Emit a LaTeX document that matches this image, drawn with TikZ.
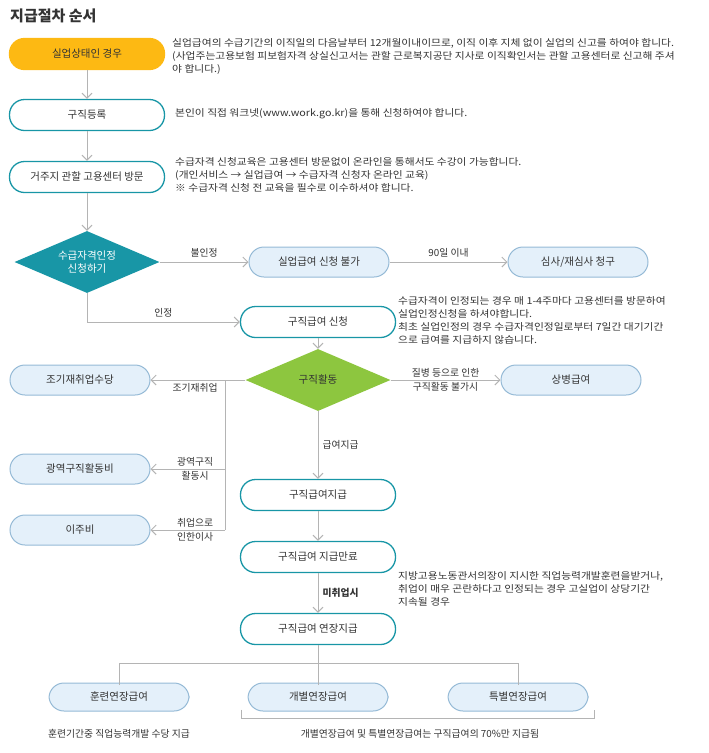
\documentclass[tikz,border=0pt]{standalone}
\usepackage{fontspec}
\setmainfont{Noto Sans CJK KR}
\newfontfamily\notefont{Noto Sans CJK KR}[FakeStretch=1.12]
\usetikzlibrary{arrows.meta,shapes.geometric,positioning}
\definecolor{teal1}{HTML}{1896A6}
\definecolor{yellow1}{HTML}{FDB913}
\definecolor{green1}{HTML}{8DC63F}
\definecolor{blue1}{HTML}{E4F0FA}
\definecolor{blueline}{HTML}{95BAD6}
\definecolor{gray1}{HTML}{B4B4B4}
\definecolor{txt}{HTML}{333333}
\tikzset{
  roundbox/.style={rectangle, rounded corners=15pt, minimum width=155pt, minimum height=31pt, draw=teal1, line width=1.3pt, fill=white, text=txt, font=\fontsize{10.5}{12}\selectfont},
  bluebox/.style={rectangle, rounded corners=15pt, minimum width=140pt, minimum height=30pt, draw=blueline, line width=1pt, fill=blue1, text=txt, font=\fontsize{10.5}{12}\selectfont},
  decision/.style={diamond, aspect=2.3, minimum width=145pt, minimum height=62pt, inner sep=0pt, text=white, font=\fontsize{10.5}{12.5}\selectfont, align=center},
  note/.style={anchor=north west, align=left, text=txt, inner sep=0pt, font=\notefont\fontsize{9.6}{13}\selectfont},
  lbl/.style={text=txt, inner sep=1pt, font=\fontsize{9.8}{12}\selectfont},
  arrowline/.style={draw=gray1, line width=1pt, -{Straight Barb[length=5pt,width=10pt]}},
  plainline/.style={draw=gray1, line width=1pt}
}
\begin{document}
\begin{tikzpicture}[x=1pt,y=-1pt]
\useasboundingbox (0,0) rectangle (709,753);
\node[anchor=west, inner sep=0pt, text=txt, font=\fontsize{15}{17}\bfseries] (title) at (10,16) {지급절차 순서};
% left column
\node (jobless)[roundbox, fill=yellow1, draw=yellow1] at (87,54) {실업상태인 경우};
\node (register)[roundbox] at (87,115) {구직등록};
\node (visit)[roundbox] at (87,177) {거주지 관할 고용센터 방문};
\node (qualify)[decision, fill=teal1] at (87,262) {수급자격인정\\신청하기};
\node (reject)[bluebox] at (319,262) {실업급여 신청 불가};
\node (review)[bluebox] at (578,262) {심사/재심사 청구};
% notes
\node[note] (note1) at (172,38) {실업급여의 수급기간의 이직일의 다음날부터 12개월이내이므로, 이직 이후 지체 없이 실업의 신고를 하여야 합니다.\\(사업주는고용보험 피보험자격 상실신고서는 관할 근로복지공단 지사로 이직확인서는 관할 고용센터로 신고해 주셔\\야 합니다.)};
\node[note] (note2) at (175,108) {본인이 직접 워크넷(www.work.go.kr)을 통해 신청하여야 합니다.};
\node[note] (note3) at (175,157) {수급자격 신청교육은 고용센터 방문없이 온라인을 통해서도 수강이 가능합니다.\\(개인서비스 → 실업급여 → 수급자격 신청자 온라인 교육)\\※ 수급자격 신청 전 교육을 필수로 이수하셔야 합니다.};
% centre column
\node (apply)[roundbox] at (318,322) {구직급여 신청};
\node[note] (note4) at (398,296) {수급자격이 인정되는 경우 매 1-4주마다 고용센터를 방문하여\\실업인정신청을 하셔야합니다.\\최초 실업인정의 경우 수급자격인정일로부터 7일간 대기기간\\으로 급여를 지급하지 않습니다.};
\node (search)[decision, fill=green1, text=txt] at (318,380) {구직활동};
\node (sick)[bluebox] at (571,380) {상병급여};
\node (early)[bluebox] at (80,380) {조기재취업수당};
\node (wide)[bluebox] at (80,469) {광역구직활동비};
\node (move)[bluebox] at (80,530) {이주비};
\node (pay)[roundbox] at (318,495) {구직급여지급};
\node (expire)[roundbox] at (318,557) {구직급여 지급만료};
\node[note] (note5) at (398,571) {지방고용노동관서의장이 지시한 직업능력개발훈련을받거나,\\취업이 매우 곤란하다고 인정되는 경우 고실업이 상당기간\\지속될 경우};
\node (extend)[roundbox] at (318,629) {구직급여 연장지급};
\node (train)[bluebox, minimum height=28pt] at (119,697) {훈련연장급여};
\node (indiv)[bluebox, minimum height=28pt] at (318,697) {개별연장급여};
\node (special)[bluebox, minimum height=28pt] at (518,697) {특별연장급여};
\node[lbl] (note6) at (119,734) {훈련기간중 직업능력개발 수당 지급};
\node[lbl] (note7) at (420,734) {개별연장급여 및 특별연장급여는 구직급여의 70\%만 지급됨};
% connectors
\coordinate (turn) at (qualify.south |- apply);
\coordinate (split) at (225,380);
\coordinate (fork) at (318,663);
\draw[arrowline] (jobless) -- (register);
\draw[arrowline] (register) -- (visit);
\draw[arrowline] (visit) -- (qualify);
\draw[arrowline] (qualify) -- node[lbl, above=3pt]{불인정} (reject);
\draw[arrowline] (reject) -- node[lbl, above=3pt]{90일 이내} (review);
\draw[plainline] (qualify.south) -- (turn);
\draw[arrowline] (turn) -- node[lbl, above=3pt]{인정} (apply);
\draw[arrowline] (apply) -- (search);
\draw[arrowline] (search) -- node[lbl, above=1pt]{질병 등으로 인한} node[lbl, below=1pt]{구직활동 불가시} (sick);
\draw[plainline] (search) -- (split);
\draw[arrowline] (split) -- node[lbl, below=2pt, pos=0.4]{조기재취업} (early);
\draw[plainline] (split) -- (split |- move);
\draw[arrowline] (split |- wide) -- node[lbl, above=1pt, pos=0.4]{광역구직} node[lbl, below=1pt, pos=0.4]{활동시} (wide);
\draw[arrowline] (split |- move) -- node[lbl, above=1pt, pos=0.4]{취업으로} node[lbl, below=1pt, pos=0.4]{인한이사} (move);
\draw[arrowline] (search) -- node[lbl, right=3pt]{급여지급} (pay);
\draw[arrowline] (pay) -- (expire);
\draw[arrowline] (expire) -- node[lbl, right=3pt, font=\fontsize{9.8}{12}\bfseries]{미취업시} (extend);
\draw[plainline] (extend) -- (fork);
\draw[plainline] (train.north |- fork) -- (special.north |- fork);
\draw[plainline] (train.north |- fork) -- ([yshift=-2pt]train.north);
\draw[plainline] (fork) -- ([yshift=-2pt]indiv.north);
\draw[plainline] (special.north |- fork) -- ([yshift=-2pt]special.north);
\draw[draw=gray1, line width=0.8pt] ([xshift=-6pt,yshift=2pt]indiv.south west) -- ++(0,9) -| ([xshift=6pt,yshift=2pt]special.south east);
\end{tikzpicture}
\end{document}
